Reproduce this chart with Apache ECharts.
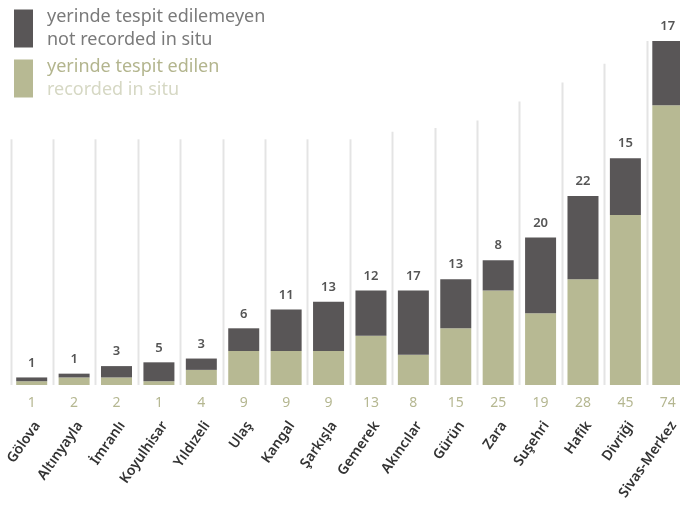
<!DOCTYPE html>
<html>
<head>
<meta charset="utf-8">
<script src="https://cdn.jsdelivr.net/npm/echarts@6/dist/echarts.min.js"></script>
<style>
  html, body { margin: 0; padding: 0; background: #ffffff; }
  #chart { width: 680px; height: 505px; }
</style>
</head>
<body>
<div id="chart"></div>
<script>
const districts = ["Gölova", "Altınyayla", "İmranlı", "Koyulhisar", "Yıldızeli", "Ulaş", "Kangal", "Şarkışla",
  "Gemerek", "Akıncılar", "Gürün", "Zara", "Suşehri", "Hafik", "Divriği", "Sivas-Merkez"];
const recorded = [1, 2, 2, 1, 4, 9, 9, 9, 13, 8, 15, 25, 19, 28, 45, 74];
const notRecorded = [1, 1, 3, 5, 3, 6, 11, 13, 12, 17, 13, 8, 20, 22, 15, 17];
// height of the thin divider at the left of each column, in value units
const dividerTops = [65, 65, 65, 65, 65, 65, 65, 65, 65, 67, 68, 70, 75, 80, 85, 91];

const font = '"Noto Sans", "Open Sans", sans-serif';
const dark = "#595657";
const olive = "#b7b993";

const legendNames = {
  "yerinde tespit edilemeyen": "{a1|yerinde tespit edilemeyen}\n{b1|not recorded in situ}",
  "yerinde tespit edilen": "{a2|yerinde tespit edilen}\n{b2|recorded in situ}",
};

const chart = echarts.init(document.getElementById("chart"));
chart.setOption({
  backgroundColor: "#ffffff",
  animation: false,
  textStyle: { fontFamily: font },
  grid: { left: 10.5, top: 7, width: 678.5, height: 378, outerBoundsMode: "none", containLabel: false },
  legend: {
    orient: "vertical",
    left: 9,
    top: 3,
    itemWidth: 19,
    itemHeight: 38,
    itemGap: 9,
    icon: "rect",
    data: ["yerinde tespit edilemeyen", "yerinde tespit edilen"],
    formatter: name => legendNames[name],
    textStyle: {
      fontFamily: font,
      fontSize: 18,
      rich: {
        a1: { color: "#7a7a7a", fontSize: 18, lineHeight: 23, padding: [0, 0, 0, 9] },
        b1: { color: "#7a7a7a", fontSize: 18, lineHeight: 23, padding: [0, 0, 0, 9] },
        a2: { color: "#b3b58e", fontSize: 18, lineHeight: 23, padding: [0, 0, 0, 9] },
        b2: { color: "#d6d8c4", fontSize: 18, lineHeight: 23, padding: [0, 0, 0, 9] },
      },
    },
  },
  xAxis: {
    type: "category",
    data: districts,
    axisLine: { show: false },
    axisTick: { show: false },
    axisLabel: {
      interval: 0,
      rotate: 55,
      margin: 34,
      verticalAlign: "top",
      color: "#333333",
      fontFamily: font,
      fontSize: 14,
      fontWeight: 600,
    },
  },
  yAxis: {
    type: "value",
    min: 0,
    max: 100,
    show: false,
  },
  series: [
    {
      type: "custom",
      z: 1,
      silent: true,
      data: dividerTops.map((h, i) => [i, h]),
      renderItem(params, api) {
        const i = api.value(0);
        const half = api.size([1, 0])[0] / 2;
        const bottom = api.coord([i, 0]);
        const top = api.coord([i, api.value(1)]);
        const x = Math.round(bottom[0] - half) + 0.5;
        return {
          type: "line",
          shape: { x1: x, y1: bottom[1], x2: x, y2: top[1] },
          style: { stroke: "#e4e4e4", lineWidth: 2 },
        };
      },
    },
    {
      name: "yerinde tespit edilen",
      type: "bar",
      stack: "total",
      z: 2,
      barWidth: 31,
      data: recorded,
      itemStyle: { color: olive },
      label: {
        show: true,
        position: "bottom",
        distance: 11,
        color: "#b5b791",
        fontFamily: font,
        fontSize: 14,
      },
    },
    {
      name: "yerinde tespit edilemeyen",
      type: "bar",
      stack: "total",
      z: 2,
      barWidth: 31,
      data: notRecorded,
      itemStyle: { color: dark },
      label: {
        show: true,
        position: "top",
        distance: 8,
        color: "#555555",
        fontFamily: font,
        fontSize: 13,
        fontWeight: 600,
      },
    },
  ],
});
</script>
</body>
</html>
